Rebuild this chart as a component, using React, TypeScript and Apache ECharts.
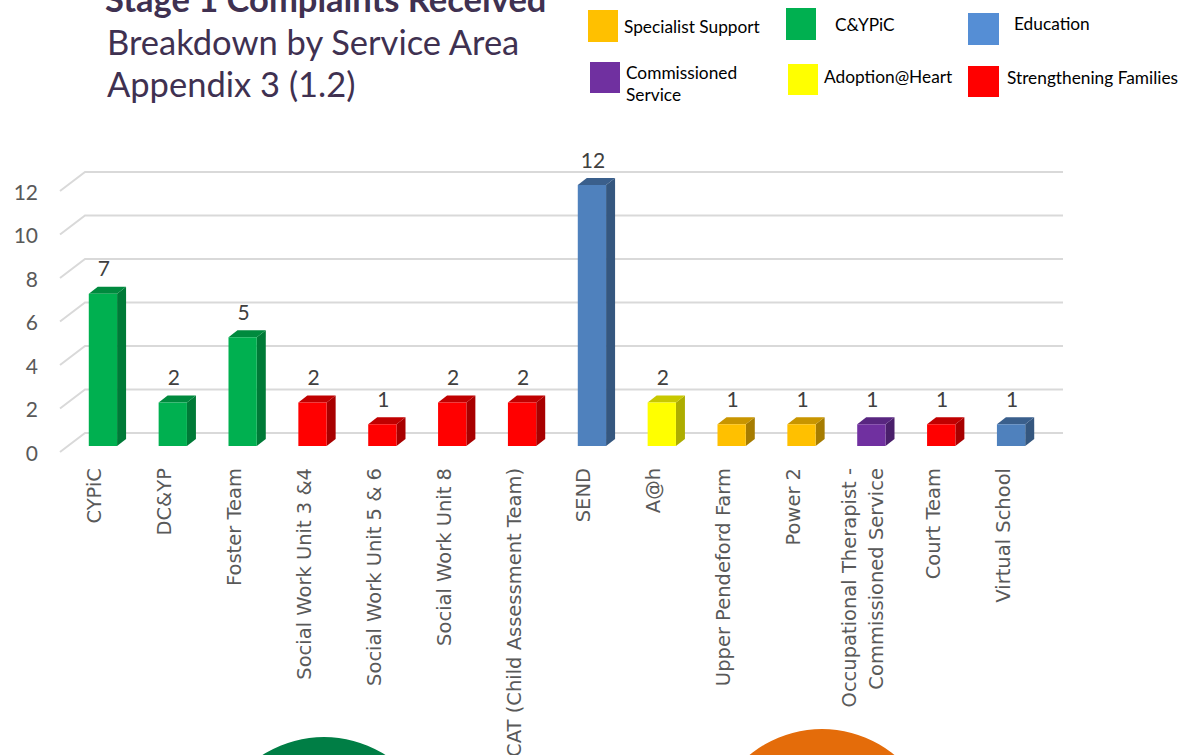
import React, { useEffect, useRef } from "react";
import * as echarts from "echarts";

const categories = [
  "CYPiC",
  "DC&YP",
  "Foster Team",
  "Social Work Unit 3 &4",
  "Social Work Unit 5 & 6",
  "Social Work Unit 8",
  "CAT (Child Assessment Team)",
  "SEND",
  "A@h",
  "Upper Pendeford Farm",
  "Power 2",
  "Occupational Therapist -\nCommissioned Service",
  "Court Team",
  "Virtual School",
];
const values = [7, 2, 5, 2, 1, 2, 2, 12, 2, 1, 1, 1, 1, 1];
const serviceAreas = [
  "C&YPiC",
  "C&YPiC",
  "C&YPiC",
  "Strengthening Families",
  "Strengthening Families",
  "Strengthening Families",
  "Strengthening Families",
  "Education",
  "Adoption@Heart",
  "Specialist Support",
  "Specialist Support",
  "Commissioned Service",
  "Strengthening Families",
  "Education",
];
const yTicks = [0, 2, 4, 6, 8, 10, 12];
const legendNames = [
  "Specialist Support",
  "C&YPiC",
  "Education",
  "Commissioned Service",
  "Adoption@Heart",
  "Strengthening Families",
];
const legendLabels = [
  "Specialist Support",
  "C&YPiC",
  "Education",
  "Commissioned\nService",
  "Adoption@Heart",
  "Strengthening Families",
];
const titleLines = ["Stage 1 Complaints Received", "Breakdown by Service Area", "Appendix 3 (1.2)"];

const palette: Record<string, { front: string; side: string; top: string; legend: string }> = {
  "Specialist Support": { front: "#FFC000", side: "#A67C00", top: "#C89500", legend: "#FFC000" },
  "C&YPiC": { front: "#00B050", side: "#007A37", top: "#008A3E", legend: "#00B050" },
  Education: { front: "#4F81BD", side: "#35577F", top: "#3A5F8C", legend: "#558ED5" },
  "Commissioned Service": { front: "#7030A0", side: "#4A1F6B", top: "#582680", legend: "#7030A0" },
  "Adoption@Heart": { front: "#FFFF00", side: "#ADAD00", top: "#C8C800", legend: "#FFFF00" },
  "Strengthening Families": { front: "#FF0000", side: "#A80000", top: "#C00000", legend: "#FF0000" },
};

// legend layout: [rectX, rectY, rectW, rectH, textX, textY]
const legendLayout = [
  [588, 10, 30, 32, 624, 26],
  [786, 8, 30, 32, 835, 24],
  [968, 13, 31, 32, 1014, 23],
  [590, 62, 30, 31, 626, 83],
  [788, 64, 30, 31, 824, 76],
  [968, 66, 31, 31, 1007, 77],
];

const BAR_SHIFT_X = 8;
const BAR_SHIFT_Y = -6;
const DEPTH_X = 9;
const DEPTH_Y = -7;
const WALL_X = 25;
const WALL_Y = -19;

export default function App() {
  const ref = useRef<HTMLDivElement>(null);
  useEffect(() => {
    if (!ref.current) return;
    const chart = echarts.init(ref.current, undefined, { renderer: "svg" });

    const graphics: any[] = [];
    const titleFonts = [
      { fontWeight: "bold", fontSize: 34.5, y: -2 },
      { fontWeight: "normal", fontSize: 34.5, y: 41 },
      { fontWeight: "normal", fontSize: 34.5, y: 83 },
    ];
    titleLines.forEach((t, k) => {
      graphics.push({
        type: "text",
        x: k === 0 ? 105 : 107,
        y: titleFonts[k].y,
        style: {
          text: t,
          fill: "#3F3151",
          fontFamily: "Lato",
          fontSize: titleFonts[k].fontSize,
          fontWeight: titleFonts[k].fontWeight,
          verticalAlign: "middle",
          align: "left",
        },
      });
    });
    legendNames.forEach((n, k) => {
      const L = legendLayout[k];
      graphics.push({
        type: "rect",
        shape: { x: L[0], y: L[1], width: L[2], height: L[3] },
        style: { fill: palette[n].legend },
      });
      graphics.push({
        type: "text",
        x: L[4],
        y: L[5],
        style: {
          text: legendLabels[k],
          fill: "#000000",
          fontFamily: "Lato",
          fontSize: 17.3,
          lineHeight: 22,
          verticalAlign: "middle",
          align: "left",
        },
      });
    });
    graphics.push({ type: "circle", shape: { cx: 324, cy: 851, r: 114 }, style: { fill: "#007E45" } });
    graphics.push({ type: "circle", shape: { cx: 822, cy: 843, r: 114 }, style: { fill: "#E46C0A" } });

    chart.setOption({
      animation: false,
      grid: {
        left: 60,
        right: 145,
        top: 191,
        bottom: 303,
        containLabel: false,
        outerBoundsMode: "none",
      },
      xAxis: {
        type: "category",
        data: categories,
        axisLine: { show: false },
        axisTick: { show: false },
        splitLine: { show: false },
        axisLabel: {
          interval: 0,
          rotate: 90,
          margin: 16,
          color: "#595959",
          fontFamily: "DejaVu Sans",
          fontSize: 19.5,
          lineHeight: 27,
        },
      },
      yAxis: {
        type: "value",
        min: 0,
        max: 12,
        interval: 2,
        axisLine: { show: false },
        axisTick: { show: false },
        splitLine: { show: false },
        axisLabel: { margin: 22, color: "#595959", fontFamily: "Lato", fontSize: 21 },
      },
      graphic: graphics,
      series: [
        {
          type: "custom",
          silent: true,
          data: yTicks.map((v) => [0, v]),
          renderItem: (params: any, api: any) => {
            const y = api.coord([0, api.value(1)])[1];
            const cs = params.coordSys;
            const x0 = cs.x;
            const x1 = cs.x + cs.width;
            return {
              type: "polyline",
              shape: {
                points: [
                  [x0, y],
                  [x0 + WALL_X, y + WALL_Y],
                  [x1 + WALL_X, y + WALL_Y],
                ],
              },
              style: { stroke: "#D9D9D9", lineWidth: 2, fill: null },
            };
          },
        },
        {
          type: "custom",
          silent: true,
          data: values.map((v, i) => [i, v]),
          renderItem: (params: any, api: any) => {
            const i = api.value(0);
            const v = api.value(1);
            const p0 = api.coord([i, 0]);
            const p1 = api.coord([i, v]);
            const band = api.size([1, 0])[0];
            const w = band * 0.405;
            const cx = p0[0] + BAR_SHIFT_X;
            const yb = p0[1] + BAR_SHIFT_Y;
            const yt = p1[1] + BAR_SHIFT_Y;
            const xl = cx - w / 2;
            const xr = cx + w / 2;
            const c = palette[serviceAreas[i]];
            return {
              type: "group",
              children: [
                {
                  type: "polygon",
                  shape: { points: [[xr, yb], [xr + DEPTH_X, yb + DEPTH_Y], [xr + DEPTH_X, yt + DEPTH_Y], [xr, yt]] },
                  style: { fill: c.side },
                },
                {
                  type: "polygon",
                  shape: { points: [[xl, yt], [xr, yt], [xr + DEPTH_X, yt + DEPTH_Y], [xl + DEPTH_X, yt + DEPTH_Y]] },
                  style: { fill: c.top },
                },
                {
                  type: "rect",
                  shape: { x: xl, y: yt, width: w, height: yb - yt },
                  style: { fill: c.front },
                },
                {
                  type: "text",
                  x: cx + 1,
                  y: yt - 26,
                  style: {
                    text: String(v),
                    fill: "#404040",
                    fontFamily: "Lato",
                    fontSize: 21,
                    align: "center",
                    verticalAlign: "middle",
                  },
                },
              ],
            };
          },
        },
      ],
    });
    return () => chart.dispose();
  }, []);
  return (
    <div
      ref={ref}
      style={{ position: "fixed", left: 0, top: 0, width: 1183, height: 755, background: "#ffffff" }}
    />
  );
}
